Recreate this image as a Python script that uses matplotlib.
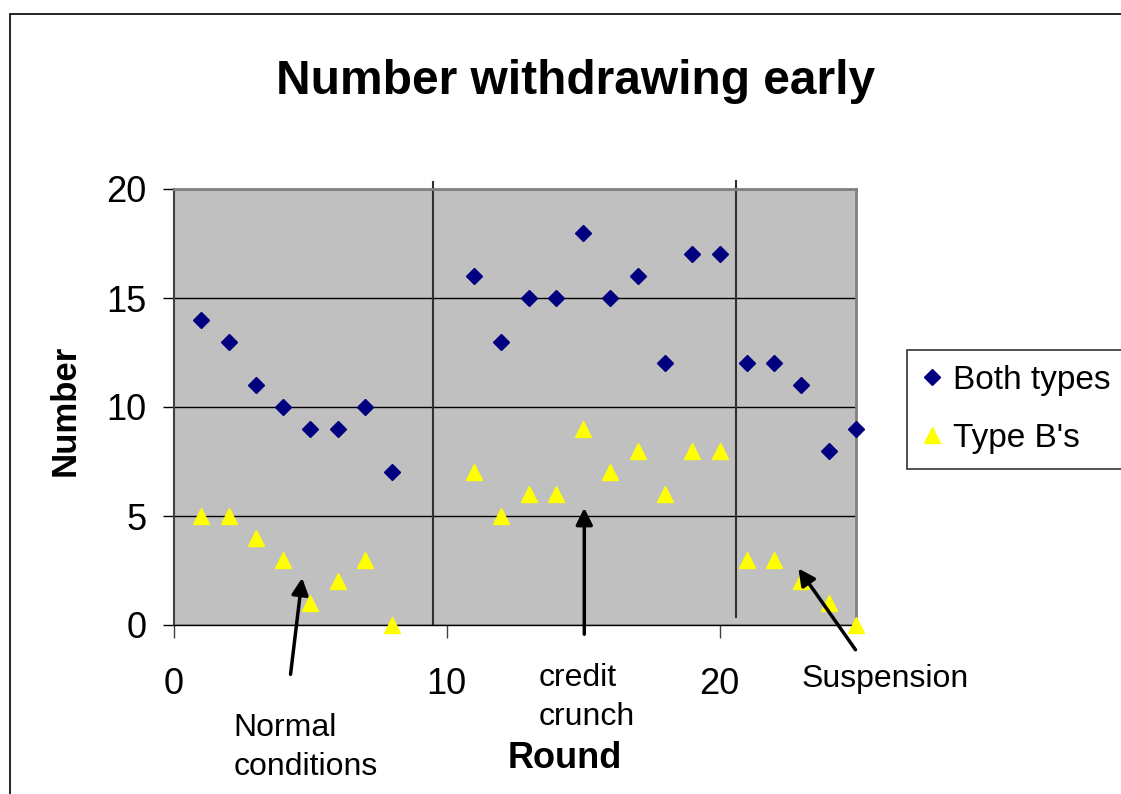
import matplotlib.pyplot as plt
from matplotlib.patches import Rectangle

plt.rcParams['font.family'] = ['Liberation Sans', 'DejaVu Sans']

rounds = [1, 2, 3, 4, 5, 6, 7, 8,
          11, 12, 13, 14, 15, 16, 17, 18, 19, 20,
          21, 22, 23, 24, 25]
both_types = [14, 13, 11, 10, 9, 9, 10, 7,
              16, 13, 15, 15, 18, 15, 16, 12, 17, 17,
              12, 12, 11, 8, 9]
type_b = [5, 5, 4, 3, 1, 2, 3, 0,
          7, 5, 6, 6, 9, 7, 8, 6, 8, 8,
          3, 3, 2, 1, 0]

x_ticks = [0, 10, 20]
y_ticks = [0, 5, 10, 15, 20]

fig = plt.figure(figsize=(11.21, 7.94), dpi=100)
ax = fig.add_axes([174 / 1121, 1 - 625 / 794, 682 / 1121, 436 / 794])
ax.set_facecolor('#c0c0c0')

ax.set_xlim(0, 25)
ax.set_ylim(0, 20)
ax.set_xticks(x_ticks)
ax.set_yticks(y_ticks)
ax.yaxis.grid(True, color='black', linewidth=1.0)
ax.set_axisbelow(True)

for side in ['top', 'right']:
    ax.spines[side].set_color('#808080')
    ax.spines[side].set_linewidth(2)
ax.spines['left'].set_color('#404040')
ax.spines['left'].set_linewidth(1.5)
ax.spines['bottom'].set_color('black')
ax.spines['bottom'].set_linewidth(1.0)

ax.tick_params(axis='x', direction='out', length=9, width=1, color='#404040',
               labelsize=26, pad=21)
ax.tick_params(axis='y', direction='out', length=8, width=1, color='black',
               labelsize=26, pad=12)

# period separators
ax.plot([9.49, 9.49], [0, 20.32], color='#303030', linewidth=1.5, clip_on=False)
ax.plot([20.6, 20.6], [0.37, 20.37], color='#303030', linewidth=1.5, clip_on=False)

ax.plot(rounds, both_types, linestyle='none', marker='D', markersize=8,
        color='#000080', label='Both types', clip_on=False, zorder=3)
ax.plot(rounds, type_b, linestyle='none', marker='^', markersize=12,
        color='#ffff00', label="Type B's", clip_on=False, zorder=3)

fig.text(576 / 1121, 1 - 82 / 794, 'Number withdrawing early', fontsize=34.5,
         fontweight='bold', ha='center', va='center')
ax.set_xlabel('Round', fontsize=26, fontweight='bold')
ax.set_ylabel('Number', fontsize=25, fontweight='bold')
ax.xaxis.set_label_coords(0.573, -0.266)
ax.yaxis.set_label_coords(-0.136, 0.493)

arrow = dict(arrowstyle='-|>', color='black', lw=2.5, mutation_scale=25)
ax.annotate('', xy=(4.71, 2.29), xytext=(4.26, -2.39), arrowprops=arrow,
            annotation_clip=False)
ax.annotate('', xy=(15.04, 5.5), xytext=(15.04, -0.55), arrowprops=arrow,
            annotation_clip=False)
ax.annotate('', xy=(22.83, 2.7), xytext=(25.04, -1.24), arrowprops=arrow,
            annotation_clip=False)

ax.text(2.17, -4.05, 'Normal\nconditions', fontsize=23, ha='left', va='top',
        linespacing=1.4)
ax.text(13.35, -1.75, 'credit\ncrunch', fontsize=23, ha='left', va='top',
        linespacing=1.4)
ax.text(23.0, -2.48, 'Suspension', fontsize=23, ha='left', va='center')

leg = fig.legend(loc='upper left', bbox_to_anchor=(907 / 1121, 1 - 350 / 794),
                 fontsize=24, frameon=True, fancybox=False, handletextpad=0.33,
                 handlelength=0.6, borderpad=0.45, labelspacing=0.8,
                 borderaxespad=0)
leg.get_frame().set_edgecolor('black')
leg.get_frame().set_linewidth(1.2)

fig.patches.append(Rectangle((10 / 1121, -0.1), 1.2, 0.1 + 1 - 14 / 794,
                             transform=fig.transFigure, fill=False,
                             edgecolor='black', linewidth=1.2))

fig.savefig('out.png', dpi=100)
